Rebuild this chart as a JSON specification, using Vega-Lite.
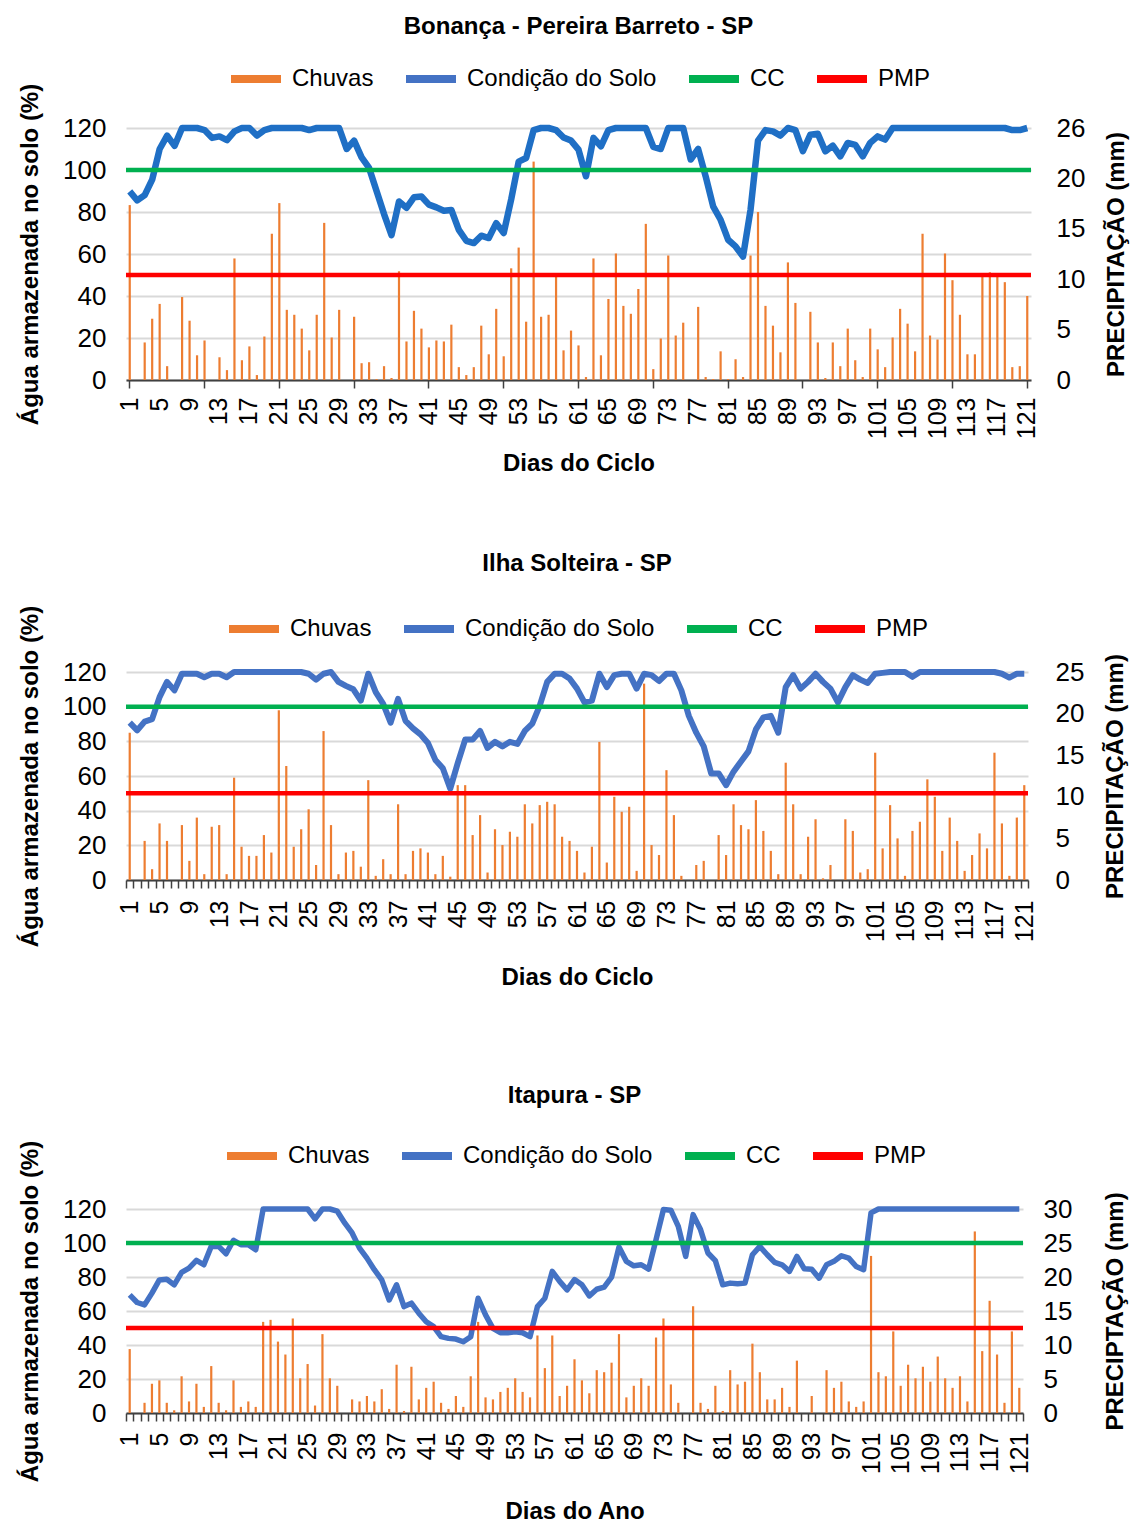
{
"$schema": "https://vega.github.io/schema/vega-lite/v6.json",
"background": "white",
"padding": {"top": 15, "left": 18, "right": 2, "bottom": 0},
"config": {
 "font": "Liberation Sans",
 "view": {"stroke": null},
 "axis": {"labelFontSize": 25, "labelColor": "#000", "titleFontSize": 24, "titleFontWeight": "bold", "titleColor": "#000", "domain": false, "ticks": false, "gridColor": "#D9D9D9", "gridWidth": 2, "labelPadding": 20, "titlePadding": 20},
 "axisY": {"labelFontSize": 26},
 "axisX": {"domain": true, "domainColor": "#404040", "domainWidth": 2, "ticks": true, "tickColor": "#404040", "tickWidth": 1.5, "tickSize": 8, "grid": false},
 "legend": {"labelFontSize": 24, "labelColor": "#000", "labelLimit": 500, "symbolType": "stroke", "symbolStrokeWidth": 8, "symbolSize": 2500, "labelOffset": 7, "columnPadding": 16, "layout": {"top": {"anchor": "middle"}}},
 "title": {"fontSize": 24, "fontWeight": "bold", "color": "#000"}
},
"datasets": {
"p1": [
{"d":1,"p":17.7,"s":89.8},{"d":2,"p":0,"s":85.5},{"d":3,"p":3.8,"s":88},{"d":4,"p":6.2,"s":95.4},{"d":5,"p":7.7,"s":110},{"d":6,"p":1.4,"s":116.4},{"d":7,"p":0,"s":111.5},{"d":8,"p":8.4,"s":120},{"d":9,"p":6.0,"s":120},{"d":10,"p":2.5,"s":120},
{"d":11,"p":4.0,"s":119},{"d":12,"p":0,"s":115.3},{"d":13,"p":2.3,"s":116},{"d":14,"p":1.0,"s":114.2},{"d":15,"p":12.3,"s":118.4},{"d":16,"p":2.0,"s":120},{"d":17,"p":3.4,"s":120},{"d":18,"p":0.5,"s":116.4},{"d":19,"p":4.4,"s":119},{"d":20,"p":14.8,"s":120},
{"d":21,"p":17.9,"s":120},{"d":22,"p":7.1,"s":120},{"d":23,"p":6.6,"s":120},{"d":24,"p":5.2,"s":120},{"d":25,"p":3.0,"s":119},{"d":26,"p":6.6,"s":120},{"d":27,"p":15.9,"s":120},{"d":28,"p":4.3,"s":120},{"d":29,"p":7.1,"s":120},{"d":30,"p":0,"s":110},
{"d":31,"p":6.4,"s":114},{"d":32,"p":1.7,"s":106},{"d":33,"p":1.8,"s":101},{"d":34,"p":0.1,"s":90},{"d":35,"p":1.4,"s":79},{"d":36,"p":0.2,"s":69},{"d":37,"p":11.0,"s":85},{"d":38,"p":3.9,"s":82},{"d":39,"p":7.0,"s":87},{"d":40,"p":5.2,"s":87.4},
{"d":41,"p":3.3,"s":83.5},{"d":42,"p":4.0,"s":82.2},{"d":43,"p":3.9,"s":80.6},{"d":44,"p":5.6,"s":81},{"d":45,"p":1.3,"s":71.5},{"d":46,"p":0.5,"s":66.3},{"d":47,"p":1.3,"s":65.2},{"d":48,"p":5.5,"s":68.7},{"d":49,"p":2.6,"s":67.6},{"d":50,"p":7.2,"s":74.7},
{"d":51,"p":2.4,"s":70},{"d":52,"p":11.3,"s":86},{"d":53,"p":13.4,"s":104},{"d":54,"p":5.9,"s":105.7},{"d":55,"p":22.1,"s":119},{"d":56,"p":6.4,"s":120},{"d":57,"p":6.6,"s":120},{"d":58,"p":10.6,"s":119},{"d":59,"p":3.0,"s":115.5},{"d":60,"p":5.0,"s":114},
{"d":61,"p":3.5,"s":109.7},{"d":62,"p":0.3,"s":97},{"d":63,"p":12.3,"s":115.3},{"d":64,"p":2.5,"s":111.3},{"d":65,"p":8.2,"s":119},{"d":66,"p":12.8,"s":120},{"d":67,"p":7.5,"s":120},{"d":68,"p":6.7,"s":120},{"d":69,"p":9.2,"s":120},{"d":70,"p":15.8,"s":120},
{"d":71,"p":1.1,"s":111},{"d":72,"p":4.2,"s":110},{"d":73,"p":12.6,"s":120},{"d":74,"p":4.5,"s":120},{"d":75,"p":5.8,"s":120},{"d":76,"p":0,"s":105},{"d":77,"p":7.4,"s":110},{"d":78,"p":0.3,"s":97},{"d":79,"p":0.1,"s":82.7},{"d":80,"p":2.9,"s":76.3},
{"d":81,"p":0.1,"s":66.8},{"d":82,"p":2.1,"s":63.6},{"d":83,"p":0.3,"s":58.8},{"d":84,"p":12.6,"s":81},{"d":85,"p":17.0,"s":114},{"d":86,"p":7.5,"s":119},{"d":87,"p":5.5,"s":118.4},{"d":88,"p":2.8,"s":116.4},{"d":89,"p":11.9,"s":120},{"d":90,"p":7.8,"s":119},
{"d":91,"p":0,"s":109},{"d":92,"p":6.9,"s":116.8},{"d":93,"p":3.8,"s":117.3},{"d":94,"p":0.2,"s":108.9},{"d":95,"p":3.8,"s":111.6},{"d":96,"p":1.4,"s":106.5},{"d":97,"p":5.2,"s":112.9},{"d":98,"p":2.0,"s":112},{"d":99,"p":0.3,"s":106.5},{"d":100,"p":5.2,"s":112.9},
{"d":101,"p":3.1,"s":116},{"d":102,"p":1.3,"s":114.5},{"d":103,"p":4.3,"s":120},{"d":104,"p":7.2,"s":120},{"d":105,"p":5.7,"s":120},{"d":106,"p":2.9,"s":120},{"d":107,"p":14.8,"s":120},{"d":108,"p":4.5,"s":120},{"d":109,"p":4.1,"s":120},{"d":110,"p":12.8,"s":120},
{"d":111,"p":10.1,"s":120},{"d":112,"p":6.6,"s":120},{"d":113,"p":2.6,"s":120},{"d":114,"p":2.6,"s":120},{"d":115,"p":10.6,"s":120},{"d":116,"p":10.9,"s":120},{"d":117,"p":10.6,"s":120},{"d":118,"p":9.9,"s":120},{"d":119,"p":1.3,"s":119},{"d":120,"p":1.4,"s":119},
{"d":121,"p":8.5,"s":120}
],
"p2": [
{"d":1,"p":17.7,"s":90.8},{"d":2,"p":0,"s":86.3},{"d":3,"p":4.7,"s":91.4},{"d":4,"p":1.3,"s":92.8},{"d":5,"p":6.8,"s":105.5},{"d":6,"p":4.7,"s":114.3},{"d":7,"p":0,"s":109.4},{"d":8,"p":6.6,"s":119},{"d":9,"p":2.3,"s":119},{"d":10,"p":7.5,"s":119},
{"d":11,"p":0.7,"s":117},{"d":12,"p":6.4,"s":119},{"d":13,"p":6.6,"s":119},{"d":14,"p":0.7,"s":117},{"d":15,"p":12.3,"s":120},{"d":16,"p":4.0,"s":120},{"d":17,"p":2.9,"s":120},{"d":18,"p":2.9,"s":120},{"d":19,"p":5.4,"s":120},{"d":20,"p":3.3,"s":120},
{"d":21,"p":20.4,"s":120},{"d":22,"p":13.7,"s":120},{"d":23,"p":4.0,"s":120},{"d":24,"p":6.1,"s":120},{"d":25,"p":8.5,"s":119},{"d":26,"p":1.8,"s":115.6},{"d":27,"p":17.9,"s":119},{"d":28,"p":6.6,"s":120},{"d":29,"p":0.7,"s":114.3},{"d":30,"p":3.3,"s":112},
{"d":31,"p":3.5,"s":110},{"d":32,"p":1.6,"s":103.5},{"d":33,"p":12.0,"s":119},{"d":34,"p":0.5,"s":108.4},{"d":35,"p":2.5,"s":101.6},{"d":36,"p":0.7,"s":90.8},{"d":37,"p":9.1,"s":104.5},{"d":38,"p":0.7,"s":91.8},{"d":39,"p":3.5,"s":87.5},{"d":40,"p":3.8,"s":84},
{"d":41,"p":3.3,"s":79},{"d":42,"p":0.7,"s":69.3},{"d":43,"p":2.9,"s":64.5},{"d":44,"p":0.4,"s":52.7},{"d":45,"p":11.4,"s":67.4},{"d":46,"p":11.4,"s":81},{"d":47,"p":5.4,"s":81},{"d":48,"p":7.8,"s":86},{"d":49,"p":0.9,"s":76.2},{"d":50,"p":6.1,"s":79.7},
{"d":51,"p":4.2,"s":77.1},{"d":52,"p":5.8,"s":79.7},{"d":53,"p":5.2,"s":78.5},{"d":54,"p":9.1,"s":86},{"d":55,"p":6.8,"s":90.2},{"d":56,"p":9.0,"s":100.6},{"d":57,"p":9.4,"s":114.3},{"d":58,"p":9.1,"s":119},{"d":59,"p":5.2,"s":119},{"d":60,"p":4.7,"s":116.2},
{"d":61,"p":3.5,"s":110.4},{"d":62,"p":0.9,"s":102.5},{"d":63,"p":4.0,"s":103.5},{"d":64,"p":16.6,"s":119},{"d":65,"p":2.1,"s":111.3},{"d":66,"p":10.0,"s":118.2},{"d":67,"p":8.2,"s":119},{"d":68,"p":8.8,"s":119},{"d":69,"p":1.1,"s":110.4},{"d":70,"p":23.6,"s":119},
{"d":71,"p":4.2,"s":118.2},{"d":72,"p":3.0,"s":114.8},{"d":73,"p":13.2,"s":119},{"d":74,"p":7.8,"s":119},{"d":75,"p":0.5,"s":109.4},{"d":76,"p":0,"s":94.7},{"d":77,"p":1.8,"s":85},{"d":78,"p":2.3,"s":77.1},{"d":79,"p":0,"s":61.5},{"d":80,"p":5.4,"s":61.5},
{"d":81,"p":3.0,"s":54.7},{"d":82,"p":9.1,"s":62.5},{"d":83,"p":6.6,"s":68.4},{"d":84,"p":6.1,"s":74.2},{"d":85,"p":9.6,"s":86.9},{"d":86,"p":5.9,"s":93.8},{"d":87,"p":3.5,"s":94.7},{"d":88,"p":0.7,"s":85},{"d":89,"p":14.1,"s":111.3},{"d":90,"p":9.1,"s":118.2},
{"d":91,"p":0.7,"s":110.4},{"d":92,"p":5.2,"s":114.3},{"d":93,"p":7.3,"s":119},{"d":94,"p":0.2,"s":114.3},{"d":95,"p":1.8,"s":110.4},{"d":96,"p":0,"s":102.5},{"d":97,"p":7.3,"s":111.3},{"d":98,"p":5.9,"s":118.2},{"d":99,"p":0.9,"s":115.6},{"d":100,"p":1.3,"s":113.7},
{"d":101,"p":15.3,"s":119},{"d":102,"p":3.8,"s":119.5},{"d":103,"p":9.0,"s":120},{"d":104,"p":5.0,"s":120},{"d":105,"p":0.5,"s":120},{"d":106,"p":5.9,"s":117.2},{"d":107,"p":7.0,"s":120},{"d":108,"p":12.1,"s":120},{"d":109,"p":10.0,"s":120},{"d":110,"p":3.5,"s":120},
{"d":111,"p":7.5,"s":120},{"d":112,"p":4.7,"s":120},{"d":113,"p":1.1,"s":120},{"d":114,"p":3.0,"s":120},{"d":115,"p":5.6,"s":120},{"d":116,"p":3.8,"s":120},{"d":117,"p":15.3,"s":120},{"d":118,"p":6.8,"s":119},{"d":119,"p":0.5,"s":116.8},{"d":120,"p":7.5,"s":119},
{"d":121,"p":11.4,"s":119}
],
"p3": [
{"d":1,"p":9.4,"s":69.5},{"d":2,"p":0,"s":65},{"d":3,"p":1.5,"s":63.6},{"d":4,"p":4.3,"s":70.5},{"d":5,"p":4.8,"s":78.3},{"d":6,"p":1.5,"s":78.7},{"d":7,"p":0.4,"s":75.4},{"d":8,"p":5.4,"s":82.7},{"d":9,"p":1.7,"s":85.2},{"d":10,"p":4.3,"s":89.8},
{"d":11,"p":0.9,"s":87.2},{"d":12,"p":6.9,"s":98},{"d":13,"p":1.5,"s":98},{"d":14,"p":0.4,"s":93.7},{"d":15,"p":4.8,"s":101.6},{"d":16,"p":0.9,"s":99},{"d":17,"p":1.7,"s":99},{"d":18,"p":0.9,"s":96},{"d":19,"p":13.4,"s":120},{"d":20,"p":13.7,"s":120},
{"d":21,"p":10.5,"s":120},{"d":22,"p":8.6,"s":120},{"d":23,"p":13.9,"s":120},{"d":24,"p":5.1,"s":120},{"d":25,"p":7.2,"s":120},{"d":26,"p":1.1,"s":114.2},{"d":27,"p":11.6,"s":120},{"d":28,"p":5.1,"s":120},{"d":29,"p":4.0,"s":118.7},{"d":30,"p":0,"s":111.8},
{"d":31,"p":2.0,"s":105.9},{"d":32,"p":1.7,"s":97},{"d":33,"p":2.5,"s":91.1},{"d":34,"p":1.7,"s":84.3},{"d":35,"p":3.5,"s":78.3},{"d":36,"p":0.6,"s":66.5},{"d":37,"p":7.1,"s":75.4},{"d":38,"p":0.3,"s":62.6},{"d":39,"p":6.8,"s":64.6},{"d":40,"p":2.0,"s":58.7},
{"d":41,"p":3.7,"s":53.7},{"d":42,"p":4.6,"s":50.8},{"d":43,"p":1.5,"s":44.9},{"d":44,"p":0.6,"s":43.9},{"d":45,"p":2.5,"s":43.5},{"d":46,"p":0.9,"s":41.9},{"d":47,"p":5.4,"s":44.9},{"d":48,"p":13.4,"s":67.5},{"d":49,"p":2.3,"s":57.7},{"d":50,"p":2.0,"s":49.8},
{"d":51,"p":3.1,"s":47.2},{"d":52,"p":3.7,"s":47.2},{"d":53,"p":5.1,"s":47.8},{"d":54,"p":3.1,"s":47.2},{"d":55,"p":2.3,"s":44.9},{"d":56,"p":11.4,"s":62.6},{"d":57,"p":6.6,"s":67.5},{"d":58,"p":11.4,"s":83.3},{"d":59,"p":2.5,"s":77.4},{"d":60,"p":4.0,"s":72.4},
{"d":61,"p":7.9,"s":78.5},{"d":62,"p":4.8,"s":75.4},{"d":63,"p":2.9,"s":68.9},{"d":64,"p":6.3,"s":72.8},{"d":65,"p":6.0,"s":74},{"d":66,"p":7.4,"s":79.9},{"d":67,"p":11.6,"s":97.6},{"d":68,"p":2.3,"s":89.2},{"d":69,"p":4.0,"s":86.6},{"d":70,"p":5.1,"s":87.2},
{"d":71,"p":4.0,"s":84.6},{"d":72,"p":11.1,"s":102},{"d":73,"p":13.9,"s":119.7},{"d":74,"p":4.2,"s":119.3},{"d":75,"p":1.5,"s":109.8},{"d":76,"p":0,"s":92.1},{"d":77,"p":15.7,"s":116.7},{"d":78,"p":1.5,"s":107.9},{"d":79,"p":0.6,"s":94.1},{"d":80,"p":4.0,"s":89.6},
{"d":81,"p":0.3,"s":75.4},{"d":82,"p":6.3,"s":76.4},{"d":83,"p":4.2,"s":76},{"d":84,"p":4.6,"s":76.4},{"d":85,"p":10.2,"s":93.1},{"d":86,"p":6.0,"s":98},{"d":87,"p":2.0,"s":93.1},{"d":88,"p":2.0,"s":88.6},{"d":89,"p":3.7,"s":87.2},{"d":90,"p":0.9,"s":83.3},
{"d":91,"p":7.7,"s":92.1},{"d":92,"p":0,"s":84.8},{"d":93,"p":2.5,"s":84.6},{"d":94,"p":0,"s":79.3},{"d":95,"p":6.3,"s":87.2},{"d":96,"p":3.7,"s":89.2},{"d":97,"p":4.6,"s":92.5},{"d":98,"p":1.7,"s":91.1},{"d":99,"p":0.9,"s":86.2},{"d":100,"p":1.7,"s":84.3},
{"d":101,"p":23.1,"s":117.7},{"d":102,"p":6.0,"s":120},{"d":103,"p":5.4,"s":120},{"d":104,"p":12.0,"s":120},{"d":105,"p":4.0,"s":120},{"d":106,"p":7.1,"s":120},{"d":107,"p":5.1,"s":120},{"d":108,"p":6.8,"s":120},{"d":109,"p":4.6,"s":120},{"d":110,"p":8.3,"s":120},
{"d":111,"p":5.1,"s":120},{"d":112,"p":3.7,"s":120},{"d":113,"p":5.4,"s":120},{"d":114,"p":1.7,"s":120},{"d":115,"p":26.7,"s":120},{"d":116,"p":9.1,"s":120},{"d":117,"p":16.5,"s":120},{"d":118,"p":8.6,"s":120},{"d":119,"p":1.5,"s":120},{"d":120,"p":12.0,"s":120},
{"d":121,"p":3.7,"s":120}
]
},
"spacing": 94,
"resolve": {"scale": {"color": "independent"}},
"vconcat": [
 {
  "spacing": 76,
  "resolve": {"scale": {"color": "independent"}},
  "vconcat": [
   {
    "title": {"text": "Bonança - Pereira Barreto - SP", "offset": 11},
    "width": 905, "height": 252,
    "data": {"name": "p1"},
    "layer": [
     {"mark": {"type": "bar", "width": 2.2, "color": "#ED7D31"},
      "encoding": {
       "x": {"field": "d", "type": "ordinal", "scale": {"paddingInner": 0, "paddingOuter": 0},
             "axis": {"title": "Dias do Ciclo", "labelAngle": -90, "labelOverlap": false, "labelExpr": "(datum.value - 1) % 4 === 0 ? datum.label : ''", "tickOpacity": {"condition": {"test": "(datum.value - 1) % 10 === 0", "value": 1}, "value": 0}, "labelPadding": 9, "titlePadding": 13}},
       "y": {"field": "p", "type": "quantitative", "scale": {"domain": [0, 25.5], "nice": false}, "axis": {"orient": "right", "values": [0, 5.1, 10.2, 15.3, 20.4, 25.5], "format": ".0f", "labelOverlap": false, "grid": false, "title": "PRECIPITAÇÃO (mm)", "titleAngle": 270, "titleBaseline": "top", "labelPadding": 25, "titlePadding": 20}}
      }},
     {"layer": [
       {"mark": {"type": "line", "color": "#1F6FC5", "strokeWidth": 6.5, "strokeJoin": "round"},
        "encoding": {
         "x": {"field": "d", "type": "ordinal"},
         "y": {"field": "s", "type": "quantitative", "scale": {"domain": [0, 120], "nice": false}, "axis": {"orient": "left", "values": [0, 20, 40, 60, 80, 100, 120], "labelOverlap": false, "grid": true, "title": "Água armazenada no solo (%)"}}
        }},
       {"data": {"values": [{}]}, "mark": {"type": "rule", "strokeWidth": 4.5},
        "encoding": {"y": {"datum": 100, "axis": {"orient": "left", "values": [0, 20, 40, 60, 80, 100, 120], "labelOverlap": false, "grid": true, "title": "Água armazenada no solo (%)"}}, "color": {"datum": "CC", "scale": {"domain": ["Chuvas", "Condição do Solo", "CC", "PMP"], "range": ["#ED7D31", "#4472C4", "#00B050", "#FF0000"]}, "legend": {"title": null, "orient": "top", "direction": "horizontal", "offset": 33}}}},
       {"data": {"values": [{}]}, "mark": {"type": "rule", "strokeWidth": 4.5},
        "encoding": {"y": {"datum": 50, "axis": {"orient": "left", "values": [0, 20, 40, 60, 80, 100, 120], "labelOverlap": false, "grid": true, "title": "Água armazenada no solo (%)"}}, "color": {"datum": "PMP"}}}
     ]}
    ],
    "resolve": {"scale": {"y": "independent"}}
   },
   {
    "title": {"text": "Ilha Solteira - SP", "offset": 24},
    "width": 902, "height": 208,
    "data": {"name": "p2"},
    "layer": [
     {"mark": {"type": "bar", "width": 2.2, "color": "#ED7D31"},
      "encoding": {
       "x": {"field": "d", "type": "ordinal", "scale": {"paddingInner": 0, "paddingOuter": 0},
             "axis": {"title": "Dias do Ciclo", "labelAngle": -90, "labelOverlap": false, "labelExpr": "(datum.value - 1) % 4 === 0 ? datum.label : ''", "tickBand": "extent", "tickExtra": true, "labelPadding": 12, "titlePadding": 24}},
       "y": {"field": "p", "type": "quantitative", "scale": {"domain": [0, 25], "nice": false}, "axis": {"orient": "right", "values": [0, 5, 10, 15, 20, 25], "labelOverlap": false, "grid": false, "title": "PRECIPITAÇÃO (mm)", "titleAngle": 270, "titleBaseline": "top", "labelPadding": 27, "titlePadding": 20}}
      }},
     {"layer": [
       {"mark": {"type": "line", "color": "#4472C4", "strokeWidth": 6, "strokeJoin": "round"},
        "encoding": {
         "x": {"field": "d", "type": "ordinal"},
         "y": {"field": "s", "type": "quantitative", "scale": {"domain": [0, 120], "nice": false}, "axis": {"orient": "left", "values": [0, 20, 40, 60, 80, 100, 120], "labelOverlap": false, "grid": true, "title": "Água armazenada no solo (%)"}}
        }},
       {"data": {"values": [{}]}, "mark": {"type": "rule", "strokeWidth": 4.5},
        "encoding": {"y": {"datum": 100, "axis": {"orient": "left", "values": [0, 20, 40, 60, 80, 100, 120], "labelOverlap": false, "grid": true, "title": "Água armazenada no solo (%)"}}, "color": {"datum": "CC", "scale": {"domain": ["Chuvas", "Condição do Solo", "CC", "PMP"], "range": ["#ED7D31", "#4472C4", "#00B050", "#FF0000"]}, "legend": {"title": null, "orient": "top", "direction": "horizontal", "offset": 27}}}},
       {"data": {"values": [{}]}, "mark": {"type": "rule", "strokeWidth": 4.5},
        "encoding": {"y": {"datum": 50, "axis": {"orient": "left", "values": [0, 20, 40, 60, 80, 100, 120], "labelOverlap": false, "grid": true, "title": "Água armazenada no solo (%)"}}, "color": {"datum": "PMP"}}}
     ]}
    ],
    "resolve": {"scale": {"y": "independent"}}
   }
  ]
 },
 {
  "title": {"text": "Itapura - SP", "offset": 19},
  "width": 897, "height": 204,
  "data": {"name": "p3"},
  "layer": [
   {"mark": {"type": "bar", "width": 2.2, "color": "#ED7D31"},
    "encoding": {
     "x": {"field": "d", "type": "ordinal", "scale": {"paddingInner": 0, "paddingOuter": 0},
           "axis": {"title": "Dias do Ano", "labelAngle": -90, "labelOverlap": false, "labelExpr": "(datum.value - 1) % 4 === 0 ? datum.label : ''", "tickBand": "extent", "tickExtra": true, "labelPadding": 11, "titlePadding": 26}},
     "y": {"field": "p", "type": "quantitative", "scale": {"domain": [0, 30], "nice": false}, "axis": {"orient": "right", "values": [0, 5, 10, 15, 20, 25, 30], "labelOverlap": false, "grid": false, "title": "PRECIPTAÇÃO (mm)", "titleAngle": 270, "titleBaseline": "top", "labelPadding": 20, "titlePadding": 32}}
    }},
   {"layer": [
     {"mark": {"type": "line", "color": "#4472C4", "strokeWidth": 5.5, "strokeJoin": "round"},
      "encoding": {
       "x": {"field": "d", "type": "ordinal"},
       "y": {"field": "s", "type": "quantitative", "scale": {"domain": [0, 120], "nice": false}, "axis": {"orient": "left", "values": [0, 20, 40, 60, 80, 100, 120], "labelOverlap": false, "grid": true, "title": "Água armazenada no solo (%)"}}
      }},
     {"data": {"values": [{}]}, "mark": {"type": "rule", "strokeWidth": 4.5},
      "encoding": {"y": {"datum": 100, "axis": {"orient": "left", "values": [0, 20, 40, 60, 80, 100, 120], "labelOverlap": false, "grid": true, "title": "Água armazenada no solo (%)"}}, "color": {"datum": "CC", "scale": {"domain": ["Chuvas", "Condição do Solo", "CC", "PMP"], "range": ["#ED7D31", "#4472C4", "#00B050", "#FF0000"]}, "legend": {"title": null, "orient": "top", "direction": "horizontal", "offset": 37}}}},
     {"data": {"values": [{}]}, "mark": {"type": "rule", "strokeWidth": 4.5},
      "encoding": {"y": {"datum": 50, "axis": {"orient": "left", "values": [0, 20, 40, 60, 80, 100, 120], "labelOverlap": false, "grid": true, "title": "Água armazenada no solo (%)"}}, "color": {"datum": "PMP"}}}
   ]}
  ],
  "resolve": {"scale": {"y": "independent"}}
 }
]
}
